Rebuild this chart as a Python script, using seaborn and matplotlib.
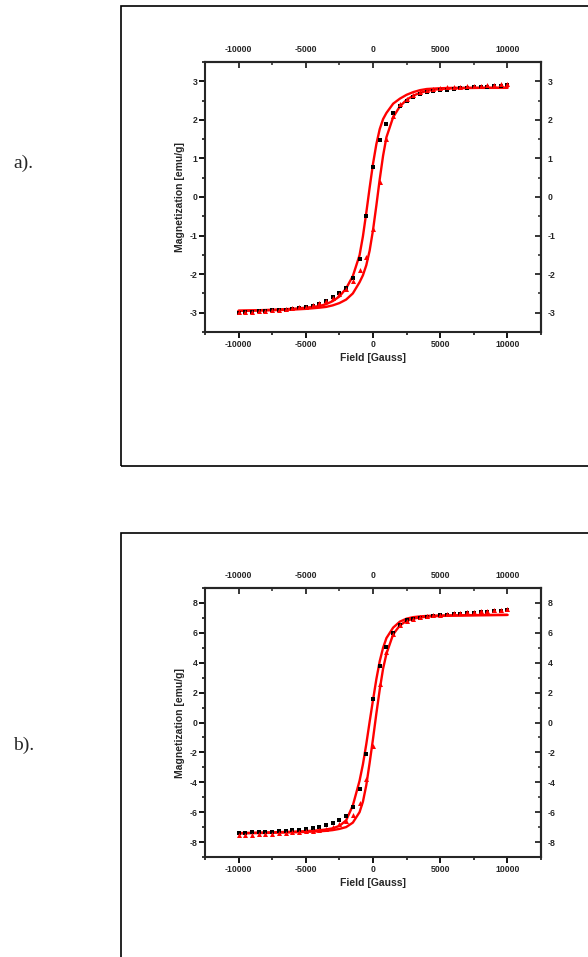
import matplotlib
matplotlib.use("Agg")
import matplotlib.pyplot as plt
import seaborn as sns
import pandas as pd
from matplotlib.patches import Rectangle
from matplotlib.ticker import MultipleLocator

# ---------------- data ----------------
field_pts = [-10000, -9500, -9000, -8500, -8000, -7500, -7000, -6500, -6000, -5500,
             -5000, -4500, -4000, -3500, -3000, -2500, -2000, -1500, -1000, -500,
             0, 500, 1000, 1500, 2000, 2500, 3000, 3500, 4000, 4500,
             5000, 5500, 6000, 6500, 7000, 7500, 8000, 8500, 9000, 9500, 10000]

a_black = [-3.00, -2.98, -2.97, -2.96, -2.95, -2.94, -2.93, -2.92, -2.90, -2.88,
           -2.86, -2.83, -2.78, -2.70, -2.60, -2.50, -2.35, -2.10, -1.60, -0.48,
           0.77, 1.47, 1.88, 2.17, 2.35, 2.50, 2.60, 2.67, 2.72, 2.75,
           2.77, 2.78, 2.80, 2.82, 2.83, 2.84, 2.85, 2.86, 2.87, 2.88, 2.90]
a_red = [-2.98, -2.98, -2.97, -2.96, -2.95, -2.93, -2.92, -2.90, -2.88, -2.86,
         -2.84, -2.80, -2.76, -2.70, -2.62, -2.52, -2.38, -2.18, -1.90, -1.55,
         -0.82, 0.40, 1.50, 2.10, 2.40, 2.55, 2.65, 2.72, 2.77, 2.80,
         2.82, 2.84, 2.85, 2.86, 2.87, 2.88, 2.89, 2.90, 2.91, 2.92, 2.93]

b_black = [-7.40, -7.38, -7.36, -7.34, -7.32, -7.30, -7.28, -7.25, -7.22, -7.18,
           -7.12, -7.05, -6.98, -6.88, -6.73, -6.55, -6.27, -5.67, -4.47, -2.13,
           1.60, 3.80, 5.05, 6.00, 6.55, 6.85, 6.95, 7.02, 7.08, 7.12,
           7.16, 7.20, 7.24, 7.28, 7.31, 7.34, 7.37, 7.40, 7.43, 7.46, 7.50]
b_red = [-7.53, -7.52, -7.50, -7.48, -7.46, -7.44, -7.42, -7.39, -7.36, -7.33,
         -7.29, -7.24, -7.18, -7.10, -6.98, -6.80, -6.60, -6.20, -5.40, -3.80,
         -1.60, 2.60, 4.70, 5.90, 6.50, 6.80, 6.95, 7.05, 7.12, 7.18,
         7.22, 7.27, 7.31, 7.35, 7.38, 7.42, 7.45, 7.48, 7.52, 7.55, 7.60]

field_fit = [-10000, -8000, -6000, -5000, -4000, -3500, -3000, -2500, -2000, -1500,
             -1000, -750, -500, -250, 0, 250, 500, 750, 1000, 1500,
             2000, 2500, 3000, 3500, 4000, 4500, 5000, 6000, 8000, 10000]

a_fit_left = [-2.95, -2.93, -2.90, -2.87, -2.83, -2.78, -2.70, -2.58, -2.37, -2.05,
              -1.51, -1.02, -0.41, 0.24, 0.86, 1.37, 1.76, 2.02, 2.18, 2.42,
              2.55, 2.65, 2.72, 2.77, 2.80, 2.81, 2.82, 2.83, 2.83, 2.83]
a_fit_right = [-2.95, -2.94, -2.92, -2.90, -2.87, -2.85, -2.81, -2.75, -2.66, -2.50,
               -2.21, -2.03, -1.77, -1.39, -0.86, -0.22, 0.46, 1.07, 1.55, 2.07,
               2.35, 2.52, 2.63, 2.70, 2.75, 2.78, 2.80, 2.82, 2.83, 2.83]

b_fit_left = [-7.40, -7.36, -7.31, -7.27, -7.21, -7.16, -7.08, -6.92, -6.55, -5.55,
              -3.90, -2.80, -1.45, 0.05, 1.50, 2.90, 4.10, 5.00, 5.65, 6.35,
              6.75, 6.95, 7.05, 7.10, 7.13, 7.15, 7.16, 7.17, 7.19, 7.20]
b_fit_right = [-7.42, -7.39, -7.35, -7.32, -7.28, -7.25, -7.20, -7.12, -7.00, -6.70,
               -6.00, -5.30, -4.20, -2.70, -1.10, 0.60, 2.20, 3.60, 4.60, 5.90,
               6.50, 6.80, 6.95, 7.03, 7.08, 7.11, 7.13, 7.15, 7.18, 7.20]

x_ticks = [-10000, -5000, 0, 5000, 10000]
a_yticks = [-3, -2, -1, 0, 1, 2, 3]
b_yticks = [-8, -6, -4, -2, 0, 2, 4, 6, 8]
x_label = "Field [Gauss]"
y_label = "Magnetization [emu/g]"
panel_labels = ["a).", "b)."]

# ---------------- figure ----------------
sns.set_style("ticks")
plt.rcParams["font.family"] = ["Liberation Sans", "DejaVu Sans"]

W, H = 588, 957
fig = plt.figure(figsize=(W / 100, H / 100), dpi=100)


def px_axes(left, top, right, bottom):
    return fig.add_axes([left / W, 1 - bottom / H, (right - left) / W, (bottom - top) / H])


tick_font = dict(fontsize=6.3, fontweight="bold")


def make_panel(ax, black, red, fit_l, fit_r, yticks, ylim, yminor):
    df_fit = pd.DataFrame({"H": field_fit + field_fit,
                           "M": fit_l + fit_r,
                           "branch": ["l"] * len(field_fit) + ["r"] * len(field_fit)})
    sns.lineplot(data=df_fit, x="H", y="M", units="branch", estimator=None,
                 color="#ff0000", lw=1.7, ax=ax, zorder=2, sort=False)
    df_b = pd.DataFrame({"H": field_pts, "M": black})
    df_r = pd.DataFrame({"H": field_pts, "M": red})
    sns.scatterplot(data=df_b, x="H", y="M", marker="s", color="black", s=10,
                    linewidth=0, ax=ax, zorder=3)
    sns.scatterplot(data=df_r, x="H", y="M", marker="^", color="#ff0000", s=13,
                    linewidth=0, ax=ax, zorder=4)
    ax.set_xlim(-12500, 12500)
    ax.set_ylim(*ylim)
    ax.set_xticks(x_ticks)
    ax.set_yticks(yticks)
    ax.xaxis.set_minor_locator(MultipleLocator(2500))
    ax.yaxis.set_minor_locator(MultipleLocator(yminor))
    ax.set_xticklabels([str(t) for t in x_ticks], **tick_font)
    ax.set_yticklabels([str(t) for t in yticks], **tick_font)
    for sp in ax.spines.values():
        sp.set_visible(True)
        sp.set_linewidth(1.5)
    ax.tick_params(which="major", direction="out", length=4, width=1.3, pad=1.5, color="black")
    ax.tick_params(which="minor", direction="out", length=2.5, width=1.1, color="black")
    ax.set_xlabel(x_label, fontsize=7.5, fontweight="bold", labelpad=3)
    ax.set_ylabel(y_label, fontsize=7.5, fontweight="bold", labelpad=3)

    top = ax.secondary_xaxis("top")
    top.set_xticks(x_ticks)
    top.set_xticklabels([str(t) for t in x_ticks], **tick_font)
    top.xaxis.set_minor_locator(MultipleLocator(2500))
    top.tick_params(which="major", direction="in", length=4, width=1.3, pad=6)
    top.tick_params(which="minor", direction="in", length=2.5, width=1.1)
    top.spines["top"].set_linewidth(1.5)

    right = ax.secondary_yaxis("right")
    right.set_yticks(yticks)
    right.set_yticklabels([str(t) for t in yticks], **tick_font)
    right.yaxis.set_minor_locator(MultipleLocator(yminor))
    right.tick_params(which="major", direction="in", length=4, width=1.3, pad=5)
    right.tick_params(which="minor", direction="in", length=2.5, width=1.1)
    right.spines["right"].set_linewidth(1.5)


ax_a = px_axes(205, 62, 541, 332)
make_panel(ax_a, a_black, a_red, a_fit_left, a_fit_right, a_yticks, (-3.5, 3.5), 0.5)

ax_b = px_axes(205, 588, 541, 857)
make_panel(ax_b, b_black, b_red, b_fit_left, b_fit_right, b_yticks, (-9, 9), 1)

# outer frames
fig.patches.append(Rectangle((121 / W, 1 - 466 / H), (W + 20 - 121) / W, (466 - 6) / H,
                             transform=fig.transFigure, fill=False, lw=1.2,
                             edgecolor="black", clip_on=False))
fig.patches.append(Rectangle((121 / W, 1 - (H + 20) / H), (W + 20 - 121) / W, (H + 20 - 533) / H,
                             transform=fig.transFigure, fill=False, lw=1.2,
                             edgecolor="black", clip_on=False))

fig.text(13 / W, 1 - 163 / H, panel_labels[0], family=["Liberation Serif", "DejaVu Serif"],
         fontsize=14, va="center", ha="left")
fig.text(13 / W, 1 - 745 / H, panel_labels[1], family=["Liberation Serif", "DejaVu Serif"],
         fontsize=14, va="center", ha="left")

fig.savefig("out.png", dpi=100, facecolor="white")
